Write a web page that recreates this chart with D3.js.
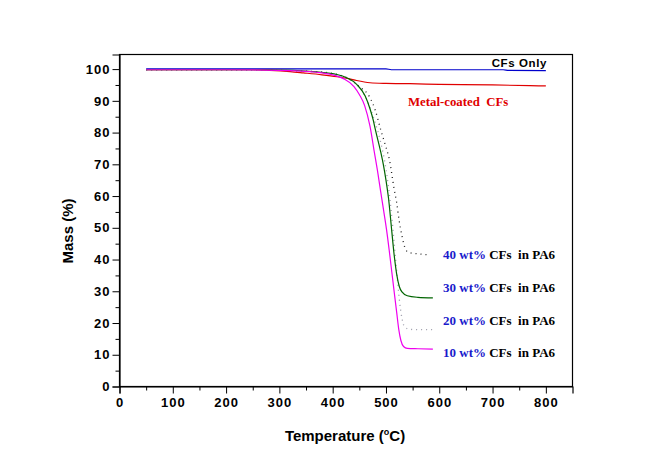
<!DOCTYPE html>
<html><head><meta charset="utf-8">
<script src="https://cdn.jsdelivr.net/npm/d3@7"></script>
<style>
body{margin:0;background:#fff;}
svg{display:block;}
</style></head>
<body>
<svg id="chart" width="665" height="464"></svg>
<script>
// ---- data ----
const xTicks = [0,100,200,300,400,500,600,700,800];
const yTicks = [0,10,20,30,40,50,60,70,80,90,100];

const tempCF   = [50,150,250,350,450,500,510,600,720,730,800];
const massCF   = [100.1,100.1,100.1,100.1,100.1,100.1,99.8,99.8,99.8,99.6,99.5];

const tempMetal = [50,150,250,282,320,345,380,408,430,445,470,500,545,600,700,770,800];
const massMetal = [99.8,99.8,99.8,99.6,99.2,98.8,98.2,97.6,97.0,96.4,95.7,95.5,95.4,95.2,95.0,94.8,94.7];

const temp40 = [50,200,300,370,400,430,450,470,480,490,498,507,515,520,525,530,535,542,560,580];
const mass40 = [99.8,99.8,99.6,99.2,98.6,97.0,94.5,91.0,87.0,81.0,76.5,71.0,62.5,58.0,52.0,47.5,44.0,42.3,41.8,41.5];

const temp30 = [50,200,282,370,408,426,445,461,470,476,480,490,495,500,505,510,515,520,525,530,540,560,588];
const mass30 = [99.8,99.8,99.8,99.1,98.3,97.3,95.2,91.5,87.5,84.0,81.0,74.0,70.0,65.0,59.0,50.5,42.0,35.5,31.5,29.8,28.6,28.1,27.9];

const temp20 = [50,200,300,370,400,440,460,480,490,500,510,515,520,525,530,535,545,560,588];
const mass20 = [99.8,99.8,99.6,99.1,98.4,95.8,91.8,83.0,77.0,68.5,55.0,46.0,36.5,27.5,21.5,18.8,18.0,17.9,17.9];

const temp10 = [50,200,300,370,400,420,440,450,460,470,478,485,490,496,501,506,511,516,520,524,528,533,540,560,588];
const mass10 = [99.8,99.8,99.6,99.0,98.2,97.0,94.5,92.0,88.5,82.0,74.0,67.0,61.5,55.0,49.5,43.0,36.0,29.0,23.5,18.0,14.5,12.6,12.0,11.9,11.8];

const seriesNames = ["CFs Only","Metal-coated  CFs","40 wt%","30 wt%","20 wt%","10 wt%"];
const compositeSuffix = " CFs  in PA6";

// ---- layout ----
const svg = d3.select("#chart");
const x = d3.scaleLinear().domain([0,850]).range([119.5,572.5]);
const y = d3.scaleLinear().domain([0,104.6]).range([386.5,54.5]);

// frame
svg.append("rect")
  .attr("x", x(0)).attr("y", y(104.6))
  .attr("width", x(850)-x(0)).attr("height", y(0)-y(104.6))
  .attr("fill","none").attr("stroke","#000").attr("stroke-width",1.2);

// x axis
svg.append("g").attr("transform",`translate(0,${y(0)})`)
  .call(d3.axisBottom(x).tickValues(xTicks).tickSize(7).tickPadding(4).tickFormat(d3.format("d")));
svg.append("g").attr("transform",`translate(0,${y(0)})`)
  .call(d3.axisBottom(x).tickValues(d3.range(50,850,100)).tickSize(4).tickFormat(""))
  .call(g=>g.select(".domain").remove());
// y axis
svg.append("g").attr("transform",`translate(${x(0)},0)`)
  .call(d3.axisLeft(y).tickValues(yTicks).tickSize(7).tickPadding(2).tickFormat(d3.format("d")));
svg.append("g").attr("transform",`translate(${x(0)},0)`)
  .call(d3.axisLeft(y).tickValues(d3.range(5,105,10)).tickSize(4).tickFormat(""))
  .call(g=>g.select(".domain").remove());

svg.selectAll(".domain").attr("stroke","#000").attr("stroke-width",1.2);
svg.selectAll(".tick line").attr("stroke","#000").attr("stroke-width",1);
svg.selectAll(".tick text")
  .attr("font-family","'Liberation Sans', Arial, sans-serif")
  .attr("font-weight","bold").attr("font-size","13px")
  .attr("letter-spacing","1px").attr("fill","#000");

// axis titles
const xt = svg.append("text")
  .attr("x",345).attr("y",441).attr("text-anchor","middle")
  .attr("font-family","'Liberation Sans', Arial, sans-serif")
  .attr("font-weight","bold").attr("font-size","15px");
xt.append("tspan").text("Temperature (");
xt.append("tspan").attr("font-size","9px").attr("dy",-6).text("o");
xt.append("tspan").attr("dy",6).text("C)");

svg.append("text")
  .attr("transform","translate(73,231) rotate(-90)")
  .attr("text-anchor","middle")
  .attr("font-family","'Liberation Sans', Arial, sans-serif")
  .attr("font-weight","bold").attr("font-size","15px")
  .text("Mass (%)");

// ---- lines ----
const line = d3.line().x(d=>x(d[0])).y(d=>y(d[1])).curve(d3.curveMonotoneX);
const zip = (t,m)=>t.map((v,i)=>[v,m[i]]);

const series = [
  {t:tempCF, m:massCF, color:"#0000cc", dash:null, w:1.2},
  {t:tempMetal, m:massMetal, color:"#e00000", dash:null, w:1.2},
  {t:temp40, m:mass40, color:"#222", dash:"1,4", w:1.3},
  {t:temp20, m:mass20, color:"#9a9aa8", dash:"1,4", w:1.3},
  {t:temp30, m:mass30, color:"#006400", dash:null, w:1.2},
  {t:temp10, m:mass10, color:"#ee00ee", dash:null, w:1.2},
];
series.forEach(s=>{
  svg.append("path").datum(zip(s.t,s.m))
    .attr("d",line).attr("fill","none")
    .attr("stroke",s.color).attr("stroke-width",s.w)
    .attr("stroke-dasharray",s.dash);
});

// ---- labels ----
svg.append("text").attr("x",547).attr("y",67).attr("text-anchor","end")
  .attr("font-family","'Liberation Sans', Arial, sans-serif")
  .attr("font-weight","bold").attr("font-size","11.5px").attr("letter-spacing","0.6px")
  .attr("fill","#000").text(seriesNames[0]);

svg.append("text").attr("x",408).attr("y",106)
  .attr("font-family","'Liberation Serif', 'Times New Roman', serif")
  .attr("font-weight","bold").attr("font-size","12.8px")
  .attr("fill","#e00000").style("white-space","pre")
  .text(seriesNames[1]);

const compBase = [259,292,325,357];
seriesNames.slice(2).forEach((n,i)=>{
  const t = svg.append("text").attr("x",443).attr("y",compBase[i])
    .attr("font-family","'Liberation Serif', 'Times New Roman', serif")
    .attr("font-weight","bold").attr("font-size","13px")
    .style("white-space","pre");
  t.append("tspan").attr("fill","#1a1acc").text(n);
  t.append("tspan").attr("fill","#000").text(compositeSuffix);
});
</script>
</body></html>
